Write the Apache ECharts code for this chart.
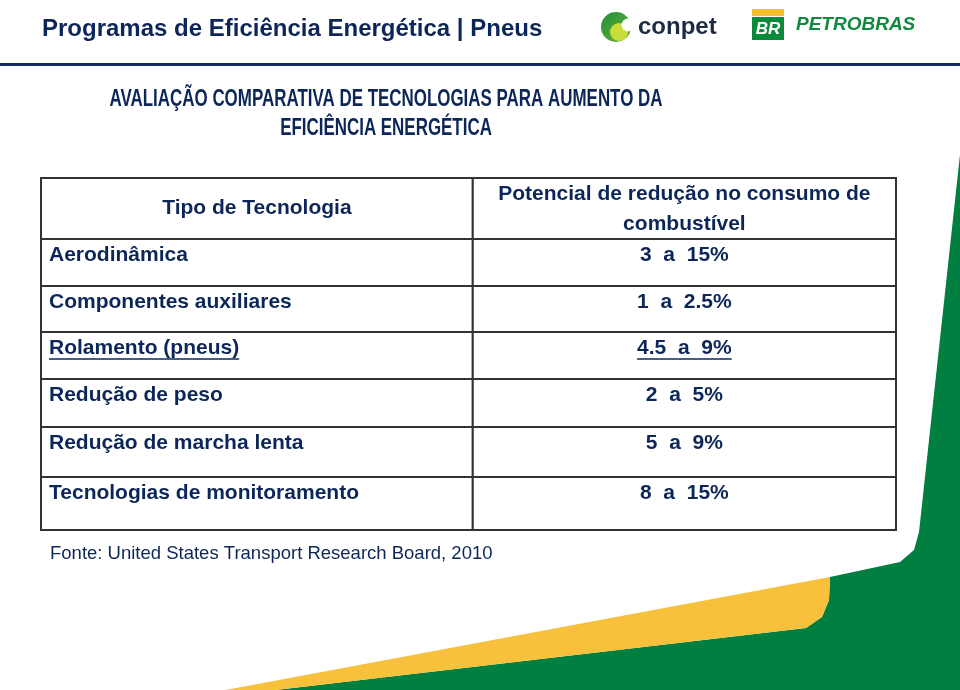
<!DOCTYPE html>
<html>
<head>
<meta charset="utf-8">
<script src="https://cdn.jsdelivr.net/npm/echarts@6/dist/echarts.min.js"></script>
<style>html,body{margin:0;padding:0;background:#fff}#main{width:960px;height:690px}</style>
</head>
<body>
<div id="main"></div>
<script>
// ---- data ----
const headerLabels = ['Tipo de Tecnologia', 'Potencial de redução no consumo de\ncombustível'];
const technologies = ['Aerodinâmica', 'Componentes auxiliares', 'Rolamento (pneus)', 'Redução de peso', 'Redução de marcha lenta', 'Tecnologias de monitoramento'];
const reductionRanges = ['3  a  15%', '1  a  2.5%', '4.5  a  9%', '2  a  5%', '5  a  9%', '8  a  15%'];
const highlighted = ['Rolamento (pneus)'];
const pageTitle = 'Programas de Eficiência Energética | Pneus';
const subtitleLines = ['AVALIAÇÃO COMPARATIVA DE TECNOLOGIAS PARA AUMENTO DA', 'EFICIÊNCIA ENERGÉTICA'];
const sourceNote = 'Fonte: United States Transport Research Board, 2010';

// ---- layout ----
const rowEdges = [0, 61, 108, 154, 201, 249, 299, 352];
const colSplit = 0.505;
const NAVY = '#0d2659';
const BORDER = '#333333';
const cellFont = 'bold 21px "Liberation Sans", Arial, sans-serif';

const measureCtx = document.createElement('canvas').getContext('2d');
function textWidth(t, font) { measureCtx.font = font; return measureCtx.measureText(t).width; }

const chart = echarts.init(document.getElementById('main'), null, {renderer: 'canvas'});

const tableData = [[0]].concat(technologies.map((_, i) => [i + 1]));

function renderRow(params, api) {
  const i = api.value(0);
  const yTop = rowEdges[i], yBot = rowEdges[i + 1];
  const tl = api.coord([0, yTop]);
  const br = api.coord([1, yBot]);
  const mid = api.coord([colSplit, yTop]);
  const children = [
    {type: 'rect', shape: {x: tl[0], y: tl[1], width: mid[0] - tl[0], height: br[1] - tl[1]},
     style: {fill: '#fff', stroke: BORDER, lineWidth: 2}},
    {type: 'rect', shape: {x: mid[0], y: tl[1], width: br[0] - mid[0], height: br[1] - tl[1]},
     style: {fill: '#fff', stroke: BORDER, lineWidth: 2}}
  ];
  if (i === 0) {
    const cy = (tl[1] + br[1]) / 2;
    children.push({type: 'text', x: (tl[0] + mid[0]) / 2, y: cy,
      style: {text: headerLabels[0], font: cellFont, fill: NAVY, align: 'center', verticalAlign: 'middle'}});
    children.push({type: 'text', x: (mid[0] + br[0]) / 2, y: cy + 1,
      style: {text: headerLabels[1], font: cellFont, fill: NAVY, align: 'center', verticalAlign: 'middle', lineHeight: 30}});
  } else {
    const name = technologies[i - 1];
    const val = reductionRanges[i - 1];
    const ty = tl[1] + 16;
    const lx = tl[0] + 8;
    const rx = (mid[0] + br[0]) / 2;
    children.push({type: 'text', x: lx, y: ty,
      style: {text: name, font: cellFont, fill: NAVY, align: 'left', verticalAlign: 'middle'}});
    children.push({type: 'text', x: rx, y: ty,
      style: {text: val, font: cellFont, fill: NAVY, align: 'center', verticalAlign: 'middle'}});
    if (highlighted.indexOf(name) >= 0) {
      const w1 = textWidth(name, cellFont);
      const w2 = textWidth(val, cellFont);
      children.push({type: 'line', shape: {x1: lx, y1: ty + 11, x2: lx + w1, y2: ty + 11}, style: {stroke: NAVY, lineWidth: 1.5}});
      children.push({type: 'line', shape: {x1: rx - w2 / 2, y1: ty + 11, x2: rx + w2 / 2, y2: ty + 11}, style: {stroke: NAVY, lineWidth: 1.5}});
    }
  }
  return {type: 'group', children: children};
}

const GREEN = '#007f40';
const YELLOW = '#f8c13c';
const subFont = 'bold 23px "Liberation Sans", Arial, sans-serif';
const subScale = 553 / textWidth(subtitleLines[0], subFont);

chart.setOption({
  animation: false,
  backgroundColor: '#ffffff',
  grid: {left: 41, right: 64, top: 178, bottom: 160},
  xAxis: {type: 'value', min: 0, max: 1, show: false},
  yAxis: {type: 'value', min: 0, max: rowEdges[rowEdges.length - 1], inverse: true, show: false},
  series: [{
    type: 'custom',
    coordinateSystem: 'cartesian2d',
    clip: false,
    data: tableData,
    renderItem: renderRow,
    silent: true
  }],
  graphic: [
    // background decoration
    {type: 'polygon', z: -10, shape: {points: [[962,136],[919,532],[914,550],[900,562],[830,577],[829,600],[822,617],[806,628],[267,691],[961,691]]}, style: {fill: GREEN}},
    {type: 'polygon', z: -10, shape: {points: [[220,691],[830,577],[829,600],[822,617],[806,628],[267,691]]}, style: {fill: YELLOW}},
    // header
    {type: 'text', x: 42, y: 29, style: {text: pageTitle, font: 'bold 24px "Liberation Sans", Arial, sans-serif', fill: NAVY, verticalAlign: 'middle'}},
    {type: 'rect', shape: {x: 0, y: 63, width: 960, height: 3}, style: {fill: '#152a62'}},
    // conpet logo
    {type: 'circle', shape: {cx: 616, cy: 27, r: 15}, style: {fill: new echarts.graphic.LinearGradient(0, 0, 1, 1, [{offset: 0, color: '#1f8f3a'}, {offset: 1, color: '#6cb33a'}])}},
    {type: 'circle', shape: {cx: 619, cy: 32, r: 9}, style: {fill: '#c9dc3a'}},
    {type: 'circle', shape: {cx: 628, cy: 25, r: 6.5}, style: {fill: '#ffffff'}},
    {type: 'text', x: 638, y: 27, style: {text: 'conpet', font: 'bold 24px "Liberation Sans", Arial, sans-serif', fill: '#1e2b45', verticalAlign: 'middle'}},
    // petrobras logo
    {type: 'rect', shape: {x: 752, y: 9, width: 32, height: 7}, style: {fill: '#f5be2b'}},
    {type: 'rect', shape: {x: 752, y: 17, width: 32, height: 23}, style: {fill: '#0b8a3c'}},
    {type: 'text', x: 768, y: 29, style: {text: 'BR', font: 'italic bold 17px "Liberation Sans", Arial, sans-serif', fill: '#ffffff', align: 'center', verticalAlign: 'middle'}},
    {type: 'text', x: 796, y: 25, style: {text: 'PETROBRAS', font: 'italic bold 19px "Liberation Sans", Arial, sans-serif', fill: '#0f8a3c', verticalAlign: 'middle'}},
    // subtitle
    {type: 'text', x: 386, y: 100, scaleX: subScale, style: {text: subtitleLines[0], font: subFont, fill: NAVY, align: 'center', verticalAlign: 'middle'}},
    {type: 'text', x: 386, y: 129, scaleX: subScale, style: {text: subtitleLines[1], font: subFont, fill: NAVY, align: 'center', verticalAlign: 'middle'}},
    // source
    {type: 'text', x: 50, y: 554, style: {text: sourceNote, font: '18.5px "Liberation Sans", Arial, sans-serif', fill: NAVY, verticalAlign: 'middle'}}
  ]
});
</script>
</body>
</html>
